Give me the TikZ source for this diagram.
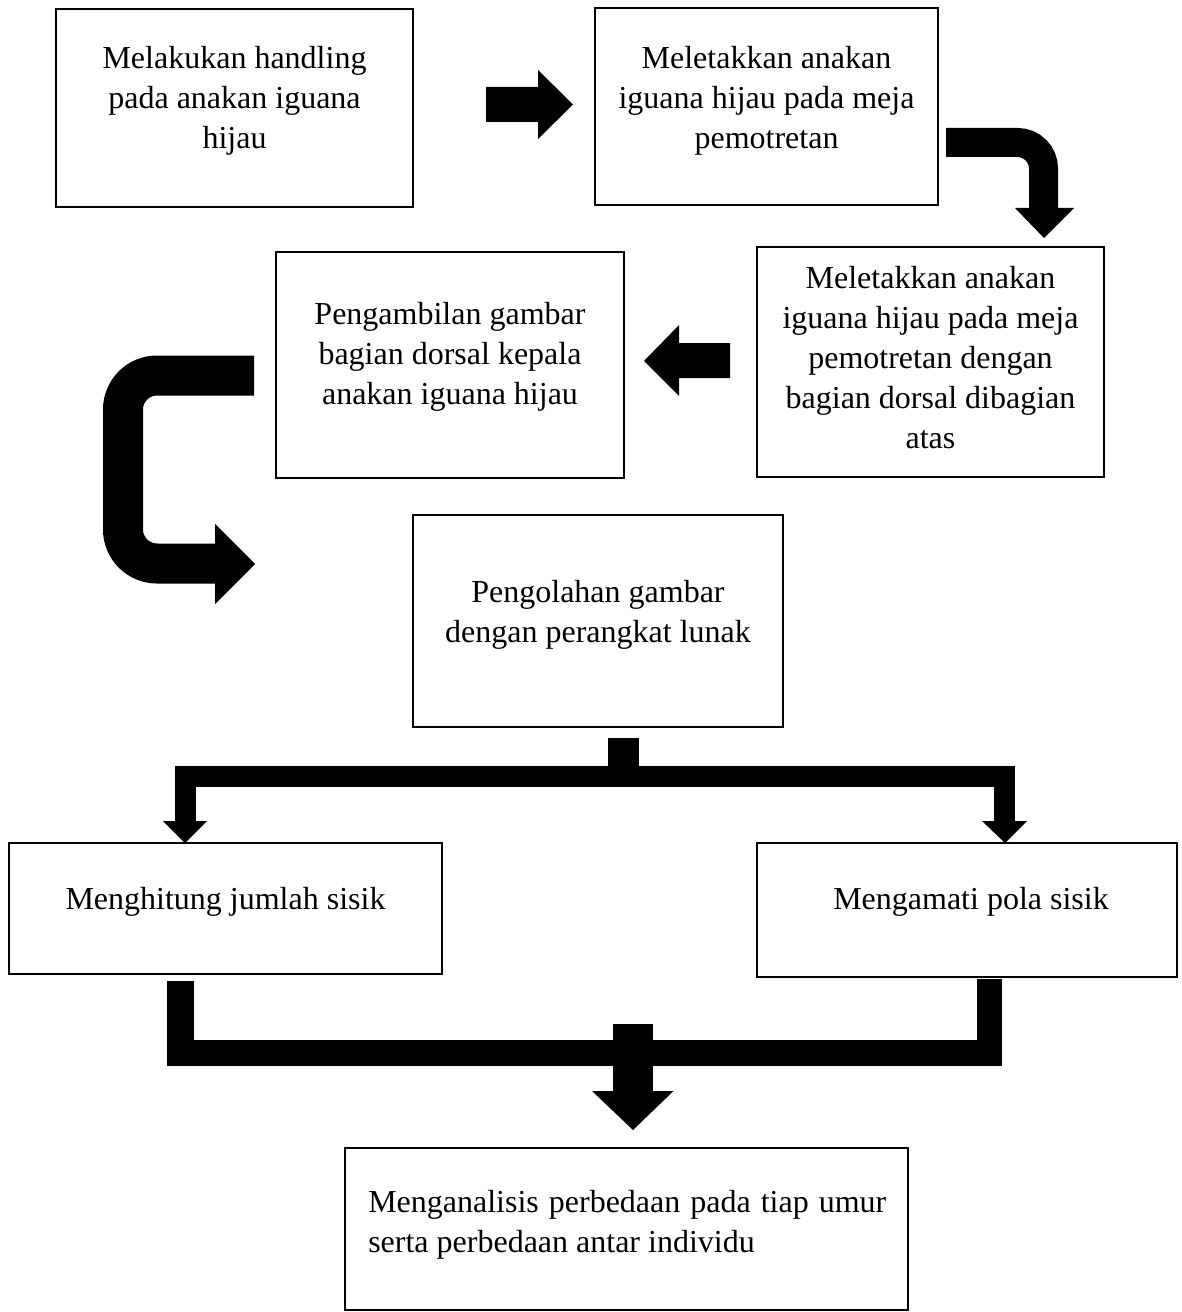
\documentclass[tikz,border=0pt]{standalone}
\usepackage{fontspec}
\setmainfont{Liberation Serif}
\usetikzlibrary{fit}
\begin{document}
\begin{tikzpicture}[x=0.75pt,y=-0.75pt,
  box/.style={draw=black,line width=1.6pt,inner sep=0pt},
  txt/.style={align=center,inner sep=0pt,anchor=north,font=\fontsize{24}{30}\selectfont},
  blk/.style={fill=black,draw=none},
  bentarrow/.style={draw=black,line cap=butt,line join=miter}]
\fill[white] (0,0) rectangle (1181,1312);
\useasboundingbox (0,0) rectangle (1181,1312);
% boxes
\node[box,fit={(56,9)(413,207)}] (b1) {};
\node[box,fit={(595,8)(938,205)}] (b2) {};
\node[box,fit={(757,247)(1104,477)}] (b3) {};
\node[box,fit={(276,252)(624,478)}] (b4) {};
\node[box,fit={(413,515)(783,727)}] (b5) {};
\node[box,fit={(9,843)(442,974)}] (b6) {};
\node[box,fit={(757,843)(1177,977)}] (b7) {};
\node[box,fit={(345,1148)(908,1310)}] (b8) {};
% texts
\node[txt] (t1) at (234.5,46) {Melakukan handling\\pada anakan iguana\\hijau};
\node[txt] (t2) at (766.5,46) {Meletakkan anakan\\iguana hijau pada meja\\pemotretan};
\node[txt] (t3) at (930.5,266) {Meletakkan anakan\\iguana hijau pada meja\\pemotretan dengan\\bagian dorsal dibagian\\atas};
\node[txt] (t4) at (450,302) {Pengambilan gambar\\bagian dorsal kepala\\anakan iguana hijau};
\node[txt] (t5) at (598,580) {Pengolahan gambar\\dengan perangkat lunak};
\node[txt] (t6) at (225.5,887) {Menghitung jumlah sisik};
\node[txt] (t7) at (971,887) {Mengamati pola sisik};
\node[txt,anchor=north west,align=justify,text width=388.5pt] (t8) at (368,1190)
  {Menganalisis perbedaan pada tiap umur\linebreak serta perbedaan antar individu};
% arrow 1 -> 2 (right)
\fill[blk] (486,87) -- (538,87) -- (538,70) -- (573,104.5) -- (538,139) -- (538,122) -- (486,122) -- cycle;
% arrow 2 -> 3 (bent down)
\draw[bentarrow,line width=21.75pt,rounded corners=19.5pt] (946,142.5) -- (1043.5,142.5) -- (1043.5,209);
\fill[blk] (1015,208) -- (1074,208) -- (1044,238) -- cycle;
% arrow 3 -> 4 (left)
\fill[blk] (730,343) -- (679,343) -- (679,325) -- (644,361) -- (679,396) -- (679,378) -- (730,378) -- cycle;
% arrow 4 -> 5 (C shape)
\draw[bentarrow,line width=30pt,rounded corners=25.5pt] (254,375.5) -- (123,375.5) -- (123,563.5) -- (216,563.5);
\fill[blk] (215,524) -- (255,564) -- (215,604) -- cycle;
% arrow 5 -> 6,7 (branch)
\fill[blk] (607.5,738) rectangle (638.5,767);
\fill[blk] (175,766) rectangle (1015,787);
\fill[blk] (175,786) rectangle (196,822);
\fill[blk] (994,786) rectangle (1015,822);
\fill[blk] (163,821) -- (207,821) -- (185,843) -- cycle;
\fill[blk] (982,821) -- (1027,821) -- (1005,843) -- cycle;
% arrow 6,7 -> 8 (merge)
\fill[blk] (167,981) rectangle (194,1041);
\fill[blk] (977,979) rectangle (1002,1041);
\fill[blk] (167,1040) rectangle (1002,1066);
\fill[blk] (613,1024) rectangle (653,1092);
\fill[blk] (592,1091) -- (673.5,1091) -- (633,1130) -- cycle;
\end{tikzpicture}
\end{document}
